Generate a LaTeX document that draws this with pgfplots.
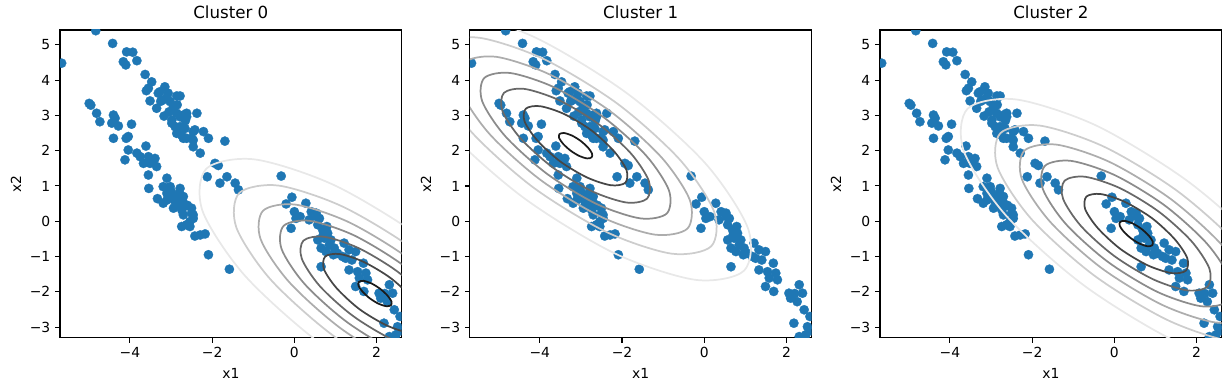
\documentclass[border=0pt]{standalone}
\usepackage{fontspec}
\setmainfont{DejaVu Sans}
\usepackage{pgfplots}
\usepackage{pgfplotstable}
\pgfplotsset{compat=1.18}
\definecolor{tabblue}{HTML}{1F77B4}
\definecolor{g1}{HTML}{E8E8E8}
\definecolor{g2}{HTML}{CDCDCD}
\definecolor{g3}{HTML}{ADADAD}
\definecolor{g4}{HTML}{8C8C8C}
\definecolor{g5}{HTML}{686868}
\definecolor{g6}{HTML}{464646}
\definecolor{g7}{HTML}{1A1A1A}

\pgfplotstableread{
x y
-4.83 5.40
-5.66 4.48
-4.42 5.04
-4.08 4.80
-3.93 4.79
-4.16 4.52
-4.10 4.43
-3.83 4.55
-3.63 4.16
-3.47 3.95
-3.55 3.77
-3.60 3.70
-3.51 3.41
-3.15 3.81
-3.27 3.67
-3.31 3.63
-3.07 3.63
-2.86 3.55
-2.78 3.55
-3.19 3.44
-3.02 3.39
-3.10 3.50
-3.25 3.40
-3.35 3.20
-2.94 3.25
-2.85 3.30
-3.17 2.98
-3.05 3.10
-2.94 3.15
-2.86 3.06
-2.78 2.96
-2.70 3.01
-2.62 3.06
-2.62 2.96
-2.37 3.06
-2.98 2.87
-2.98 2.78
-2.90 2.68
-2.78 2.68
-2.66 2.63
-2.65 2.85
-2.86 2.49
-2.74 2.44
-2.70 2.35
-2.62 2.35
-2.50 2.35
-2.46 2.54
-2.42 2.59
-2.21 2.54
-2.09 2.35
-2.46 2.30
-2.46 2.11
-2.29 1.93
-1.69 2.27
-1.93 1.64
-1.85 1.58
-2.12 1.26
-1.81 1.08
-1.64 1.26
-1.44 1.08
-1.36 0.89
-0.32 1.28
-4.99 3.34
-4.95 3.29
-4.81 3.06
-4.73 2.82
-4.40 3.01
-4.36 2.92
-4.44 2.78
-4.28 2.70
-3.96 2.75
-4.40 2.35
-4.09 2.35
-4.04 2.40
-3.61 2.13
-4.04 2.02
-4.12 1.74
-3.83 1.93
-3.75 1.83
-3.55 1.83
-3.39 1.78
-3.67 1.64
-3.51 1.64
-3.35 1.55
-3.55 1.31
-3.54 0.93
-3.10 1.22
-3.19 0.98
-3.02 0.98
-2.78 0.93
-3.33 0.64
-3.10 0.60
-3.10 0.79
-2.94 0.70
-2.78 0.65
-2.70 0.70
-2.86 0.51
-3.19 0.51
-2.70 0.51
-2.70 0.41
-2.86 0.46
-2.94 0.37
-2.74 0.32
-2.50 0.37
-2.50 0.23
-2.70 0.18
-2.46 0.18
-2.46 0.08
-2.54 -0.01
-2.62 -0.10
-2.74 -0.15
-2.54 -0.15
-2.42 -0.42
-2.29 -0.39
-2.17 -0.36
-2.09 -0.95
-1.58 -1.36
-3.00 0.85
-2.90 0.55
-2.80 0.80
-2.60 0.45
-0.20 0.49
-0.06 0.68
0.00 0.27
0.04 0.08
-0.08 -0.20
0.28 0.51
0.41 0.27
0.36 0.04
0.53 0.23
0.61 0.08
0.57 -0.10
0.54 0.13
0.14 0.13
0.79 -0.15
0.69 -0.25
0.81 -0.34
0.73 -0.48
0.89 -0.53
0.57 -0.53
0.85 -0.67
0.65 -0.76
0.77 -0.86
0.97 -0.76
1.05 -0.91
0.65 -1.29
1.21 -0.62
1.33 -0.81
1.25 -1.05
1.17 -1.00
1.49 -0.86
1.68 -1.19
1.33 -1.38
1.54 -1.43
1.74 -1.47
1.58 -1.61
1.78 -1.66
1.49 -1.85
1.69 -1.99
2.06 -2.04
2.31 -1.80
2.39 -2.04
2.26 -2.28
2.10 -2.18
2.43 -2.51
2.18 -2.89
2.51 -2.99
2.47 -3.22
2.31 -3.27
2.57 -2.70
2.61 -3.10
0.70 -0.40
0.95 -0.95
1.40 -1.10
2.20 -2.05
}\pts

\pgfplotsset{
  cl/.style={
    scale only axis, width=246pt, height=221.5pt,
    xmin=-5.70, xmax=2.61, ymin=-3.30, ymax=5.42,
    xtick={-4,-2,0,2}, xticklabels={−4,−2,0,2},
    ytick={-3,-2,-1,0,1,2,3,4,5}, yticklabels={−3,−2,−1,0,1,2,3,4,5},
    tick pos=left, tick align=outside, major tick length=3.5pt,
    tick style={black, line width=0.8pt},
    axis line style={line width=0.8pt},
    ticklabel style={font=\fontsize{10}{12}\selectfont},
    xlabel={x1}, ylabel={x2},
    label style={font=\fontsize{10}{12}\selectfont},
    xlabel style={at={([yshift=-25.6pt]axis description cs:0.5,0)}, anchor=center},
    ylabel style={at={([xshift=-31.7pt]axis description cs:0,0.5)}, anchor=center},
    title style={font=\fontsize{12}{14}\selectfont, at={([yshift=7pt]axis description cs:0.5,1)}, anchor=center},
    clip marker paths=true,
  },
  pts/.style={only marks, mark=*, mark size=3.35pt, color=tabblue, mark options={fill=tabblue, draw=tabblue, line width=0.2pt}},
  ct/.style={#1, line width=1.25pt, smooth cycle, no markers, line join=round},
}

\begin{document}
\begin{tikzpicture}
\path[use as bounding box] (0,0) rectangle (887pt,281.5pt);

\begin{axis}[cl, at={(43.2pt,38.4pt)}, anchor=south west, title={Cluster 0}]
\addplot[pts] table {\pts};
\addplot[ct=g1] coordinates {(6.06,-5.59) (6.15,-4.38) (5.11,-2.54) (3.23,-0.58) (1.01,1.00) (-0.95,1.75) (-2.14,1.49) (-2.23,0.28) (-1.19,-1.56) (0.69,-3.52) (2.91,-5.10) (4.87,-5.85)};
\addplot[ct=g2] coordinates {(5.26,-4.90) (5.33,-3.92) (4.50,-2.45) (2.98,-0.86) (1.20,0.40) (-0.38,1.01) (-1.34,0.80) (-1.41,-0.18) (-0.58,-1.65) (0.94,-3.24) (2.72,-4.50) (4.30,-5.11)};
\addplot[ct=g3] coordinates {(4.68,-4.40) (4.74,-3.59) (4.05,-2.38) (2.80,-1.07) (1.33,-0.03) (0.03,0.47) (-0.76,0.30) (-0.82,-0.51) (-0.13,-1.72) (1.12,-3.03) (2.59,-4.07) (3.89,-4.57)};
\addplot[ct=g4] coordinates {(4.18,-3.97) (4.23,-3.31) (3.67,-2.32) (2.65,-1.25) (1.45,-0.40) (0.38,0.01) (-0.26,-0.13) (-0.31,-0.79) (0.25,-1.78) (1.27,-2.85) (2.47,-3.70) (3.54,-4.11)};
\addplot[ct=g5] coordinates {(3.70,-3.55) (3.74,-3.04) (3.30,-2.26) (2.50,-1.42) (1.56,-0.76) (0.72,-0.44) (0.22,-0.55) (0.18,-1.06) (0.62,-1.84) (1.42,-2.68) (2.36,-3.34) (3.20,-3.66)};
\addplot[ct=g6] coordinates {(3.17,-3.10) (3.20,-2.74) (2.89,-2.20) (2.34,-1.61) (1.68,-1.15) (1.10,-0.93) (0.75,-1.00) (0.72,-1.36) (1.03,-1.90) (1.58,-2.49) (2.24,-2.95) (2.82,-3.17)};
\addplot[ct=g7] coordinates {(2.35,-2.38) (2.36,-2.27) (2.26,-2.10) (2.08,-1.91) (1.87,-1.76) (1.68,-1.69) (1.57,-1.72) (1.56,-1.83) (1.66,-2.00) (1.84,-2.19) (2.05,-2.34) (2.24,-2.41)};
\end{axis}

\begin{axis}[cl, at={(338.3pt,38.4pt)}, anchor=south west, title={Cluster 1}]
\addplot[pts] table {\pts};
\addplot[ct=g1] coordinates {(0.97,-1.40) (1.06,-0.19) (0.02,1.65) (-1.86,3.61) (-4.08,5.19) (-6.04,5.94) (-7.23,5.68) (-7.32,4.47) (-6.28,2.63) (-4.40,0.67) (-2.18,-0.91) (-0.22,-1.66)};
\addplot[ct=g2] coordinates {(0.17,-0.71) (0.24,0.27) (-0.59,1.74) (-2.11,3.33) (-3.89,4.59) (-5.47,5.20) (-6.43,4.99) (-6.50,4.01) (-5.67,2.54) (-4.15,0.95) (-2.37,-0.31) (-0.79,-0.92)};
\addplot[ct=g3] coordinates {(-0.41,-0.21) (-0.35,0.60) (-1.04,1.81) (-2.29,3.12) (-3.76,4.16) (-5.06,4.66) (-5.85,4.49) (-5.91,3.68) (-5.22,2.47) (-3.97,1.16) (-2.50,0.12) (-1.20,-0.38)};
\addplot[ct=g4] coordinates {(-0.91,0.22) (-0.86,0.88) (-1.42,1.87) (-2.44,2.94) (-3.64,3.79) (-4.71,4.20) (-5.35,4.06) (-5.40,3.40) (-4.84,2.41) (-3.82,1.34) (-2.62,0.49) (-1.55,0.08)};
\addplot[ct=g5] coordinates {(-1.39,0.64) (-1.35,1.15) (-1.79,1.93) (-2.59,2.77) (-3.53,3.43) (-4.37,3.75) (-4.87,3.64) (-4.91,3.13) (-4.47,2.35) (-3.67,1.51) (-2.73,0.85) (-1.89,0.53)};
\addplot[ct=g6] coordinates {(-1.92,1.09) (-1.89,1.45) (-2.20,1.99) (-2.75,2.58) (-3.41,3.04) (-3.99,3.26) (-4.34,3.19) (-4.37,2.83) (-4.06,2.29) (-3.51,1.70) (-2.85,1.24) (-2.27,1.02)};
\addplot[ct=g7] coordinates {(-2.74,1.81) (-2.73,1.92) (-2.83,2.09) (-3.01,2.28) (-3.22,2.43) (-3.41,2.50) (-3.52,2.47) (-3.53,2.36) (-3.43,2.19) (-3.25,2.00) (-3.04,1.85) (-2.85,1.78)};
\end{axis}

\begin{axis}[cl, at={(633.6pt,38.4pt)}, anchor=south west, title={Cluster 2}]
\addplot[pts] table {\pts};
\addplot[ct=g1] coordinates {(4.63,-3.89) (4.72,-2.68) (3.68,-0.84) (1.80,1.12) (-0.42,2.70) (-2.38,3.45) (-3.57,3.19) (-3.66,1.98) (-2.62,0.14) (-0.74,-1.82) (1.48,-3.40) (3.44,-4.15)};
\addplot[ct=g2] coordinates {(3.83,-3.20) (3.90,-2.22) (3.07,-0.75) (1.55,0.84) (-0.23,2.10) (-1.81,2.71) (-2.77,2.50) (-2.84,1.52) (-2.01,0.05) (-0.49,-1.54) (1.29,-2.80) (2.87,-3.41)};
\addplot[ct=g3] coordinates {(3.25,-2.70) (3.31,-1.89) (2.62,-0.68) (1.37,0.63) (-0.10,1.67) (-1.40,2.17) (-2.19,2.00) (-2.25,1.19) (-1.56,-0.02) (-0.31,-1.33) (1.16,-2.37) (2.46,-2.87)};
\addplot[ct=g4] coordinates {(2.75,-2.27) (2.80,-1.61) (2.24,-0.62) (1.22,0.45) (0.02,1.30) (-1.05,1.71) (-1.69,1.57) (-1.74,0.91) (-1.18,-0.08) (-0.16,-1.15) (1.04,-2.00) (2.11,-2.41)};
\addplot[ct=g5] coordinates {(2.27,-1.85) (2.31,-1.34) (1.87,-0.56) (1.07,0.28) (0.13,0.94) (-0.71,1.26) (-1.21,1.15) (-1.25,0.64) (-0.81,-0.14) (-0.01,-0.98) (0.93,-1.64) (1.77,-1.96)};
\addplot[ct=g6] coordinates {(1.74,-1.40) (1.77,-1.04) (1.46,-0.50) (0.91,0.09) (0.25,0.55) (-0.33,0.77) (-0.68,0.70) (-0.71,0.34) (-0.40,-0.20) (0.15,-0.79) (0.81,-1.25) (1.39,-1.47)};
\addplot[ct=g7] coordinates {(0.92,-0.68) (0.93,-0.57) (0.83,-0.40) (0.65,-0.21) (0.44,-0.06) (0.25,0.01) (0.14,-0.02) (0.13,-0.13) (0.23,-0.30) (0.41,-0.49) (0.62,-0.64) (0.81,-0.71)};
\end{axis}
\end{tikzpicture}
\end{document}
